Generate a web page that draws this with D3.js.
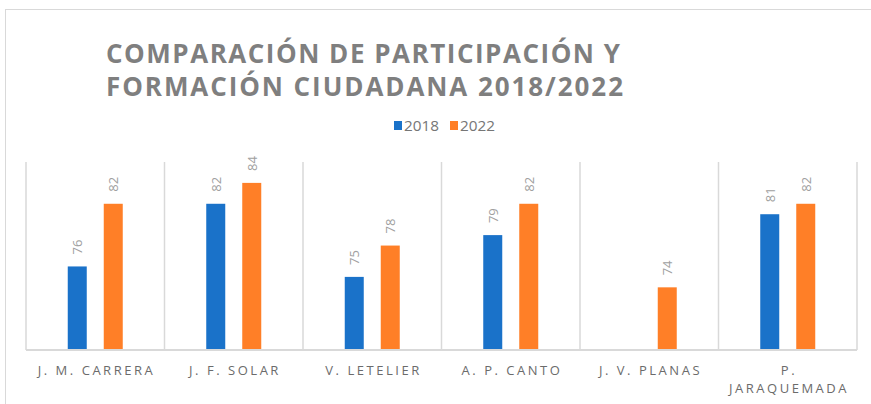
<!DOCTYPE html>
<html>
<head>
<meta charset="utf-8">
<script src="https://cdn.jsdelivr.net/npm/d3@7"></script>
<style>
  html, body { margin: 0; padding: 0; background: #fff; }
  svg { display: block; }
</style>
</head>
<body>
<svg id="chart" width="871" height="404"></svg>
<script>
// Participation and civic education results per school, 2018 vs 2022
const categories = ["J. M. CARRERA", "J. F. SOLAR", "V. LETELIER", "A. P. CANTO", "J. V. PLANAS", "P. JARAQUEMADA"];
const seriesNames = ["2018", "2022"];
const values2018 = [76, 82, 75, 79, null, 81];
const values2022 = [82, 84, 78, 82, 74, 82];
const titleLines = ["COMPARACIÓN DE PARTICIPACIÓN Y", "FORMACIÓN CIUDADANA 2018/2022"];

const colors = { "2018": "#1a72c9", "2022": "#ff7f27" };
const FONT = "'Open Sans', 'Noto Sans', sans-serif";

const svg = d3.select("#chart");

// chart area frame
svg.append("rect")
  .attr("x", 5.5).attr("y", 9.5)
  .attr("width", 900).attr("height", 500)
  .attr("fill", "#fff").attr("stroke", "#d9d9d9").attr("stroke-width", 1);

// title
const title = svg.append("g");
const titleWidths = [514, 517];
titleLines.forEach((line, i) => {
  title.append("text")
    .attr("x", 106).attr("y", 63 + i * 33)
    .attr("font-family", FONT).attr("font-weight", 700)
    .attr("font-size", 26).attr("fill", "#7f7f7f")
    .attr("textLength", titleWidths[i]).attr("lengthAdjust", "spacing")
    .text(line);
});

// legend
const legend = svg.append("g").attr("font-family", FONT).attr("font-size", 14.5).attr("fill", "#767676");
const legendX = [394, 450];
seriesNames.forEach((s, i) => {
  legend.append("rect").attr("x", legendX[i]).attr("y", 121).attr("width", 8).attr("height", 9).attr("fill", colors[s]);
  legend.append("text").attr("x", legendX[i] + 10).attr("y", 130.5)
    .attr("textLength", 35).attr("lengthAdjust", "spacingAndGlyphs").text(s);
});

// scales
const plot = { left: 26, right: 857, top: 162, bottom: 350 };
const x = d3.scaleBand().domain(categories).range([plot.left, plot.right]).padding(0);
const bw = x.bandwidth();
const xs = d3.scaleBand().domain(seriesNames).range([bw / 2 - 27.5, bw / 2 + 27.5]).paddingInner(17 / 36);
const y = d3.scaleLinear().domain([68, 86]).range([plot.bottom, plot.top]);

// category separators
const seps = d3.range(categories.length + 1).map(i => plot.left + i * bw);
svg.append("g").selectAll("line").data(seps).join("line")
  .attr("x1", d => d).attr("x2", d => d)
  .attr("y1", plot.top).attr("y2", plot.bottom)
  .attr("stroke", "#d9d9d9").attr("stroke-width", 1.5);

// bars
const rows = [];
categories.forEach((c, i) => {
  rows.push({ cat: c, series: "2018", value: values2018[i] });
  rows.push({ cat: c, series: "2022", value: values2022[i] });
});
const present = rows.filter(d => d.value != null);

svg.append("g").selectAll("rect").data(present).join("rect")
  .attr("x", d => x(d.cat) + xs(d.series))
  .attr("y", d => y(d.value))
  .attr("width", xs.bandwidth())
  .attr("height", d => y(68) - y(d.value))
  .attr("fill", d => colors[d.series]);

// value labels, rotated
svg.append("g").selectAll("text").data(present).join("text")
  .attr("transform", d => {
    const cx = x(d.cat) + xs(d.series) + xs.bandwidth() / 2;
    return `translate(${cx},${y(d.value) - 12}) rotate(-90)`;
  })
  .attr("dominant-baseline", "central")
  .attr("font-family", FONT).attr("font-size", 13).attr("fill", "#a0a0a0")
  .text(d => d.value);

// baseline
svg.append("line")
  .attr("x1", plot.left).attr("x2", plot.right)
  .attr("y1", plot.bottom).attr("y2", plot.bottom)
  .attr("stroke", "#d9d9d9").attr("stroke-width", 2);

// category axis labels (letter-spaced, wrapped when too wide)
const axisG = svg.append("g").attr("font-family", FONT).attr("font-size", 13).attr("fill", "#6b6b6b");
const probe = axisG.append("text").text("J. M. CARRERA");
const natural = probe.node().getComputedTextLength();
probe.remove();
const spacing = (115 - natural) / ("J. M. CARRERA".length - 1);

function measure(str) {
  const t = axisG.append("text").attr("letter-spacing", spacing).text(str);
  const w = t.node().getComputedTextLength();
  t.remove();
  return w;
}

categories.forEach(c => {
  const words = c.split(" ");
  const lines = [];
  let cur = "";
  words.forEach(w => {
    const test = cur ? cur + " " + w : w;
    if (cur && measure(test) > bw - 10) { lines.push(cur); cur = w; }
    else cur = test;
  });
  lines.push(cur);
  const cx = x(c) + bw / 2 + spacing / 2;
  lines.forEach((ln, j) => {
    axisG.append("text")
      .attr("x", cx).attr("y", 375 + j * 18)
      .attr("text-anchor", "middle")
      .attr("letter-spacing", spacing)
      .text(ln);
  });
});
</script>
</body>
</html>
